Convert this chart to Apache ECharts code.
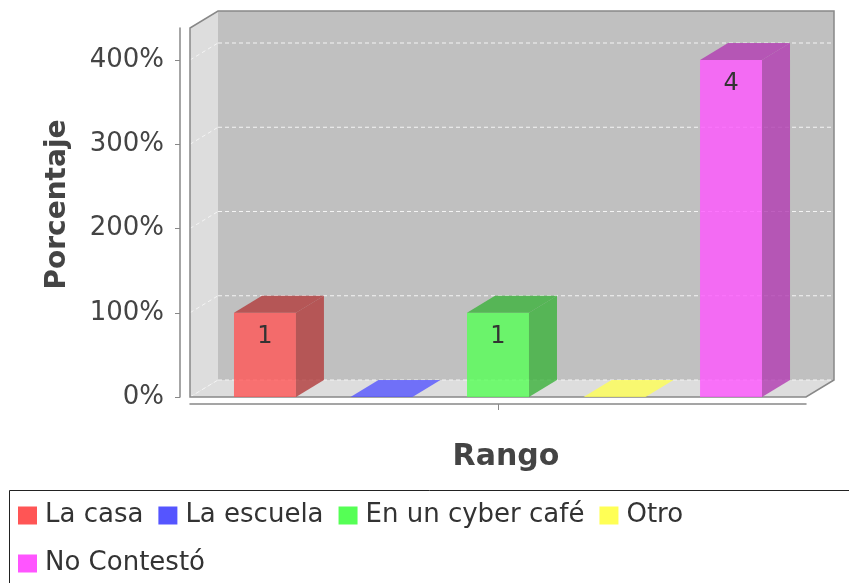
<!DOCTYPE html>
<html><head><meta charset="utf-8">
<script src="https://cdn.jsdelivr.net/npm/echarts@6/dist/echarts.min.js"></script>
<style>html,body{margin:0;padding:0;background:#fff}#c{width:849px;height:583px}</style>
</head><body><div id="c"></div>
<script>
const categories = [''];
const seriesNames = ['La casa', 'La escuela', 'En un cyber café', 'Otro', 'No Contestó'];
const values = [1, 0, 1, 0, 4];
const yTicks = [0, 1, 2, 3, 4];
const colors = ['#FF5555', '#5555FF', '#55FF55', '#FFFF55', '#FF55FF'];

const DX = 28, DY = 17;
const FONT = 'DejaVu Sans';

function rgb(hex) { return [1, 3, 5].map(k => parseInt(hex.substr(k, 2), 16)); }
function rgba(c, a) { return 'rgba(' + c.join(',') + ',' + a + ')'; }
function darker(c) { return c.map(v => Math.floor(v * 0.7)); }

function wallsRender(params, api) {
  const cs = params.coordSys;
  const gx = cs.x, gy = cs.y, gw = cs.width, gh = cs.height;
  const ch = [];
  ch.push({ type: 'polygon', shape: { points: [[gx, gy + gh], [gx, gy], [gx + DX, gy - DY], [gx + DX, gy + gh - DY]] }, style: { fill: '#DDDDDD' } });
  ch.push({ type: 'rect', shape: { x: gx + DX, y: gy - DY, width: gw, height: gh }, style: { fill: '#C0C0C0' } });
  ch.push({ type: 'polygon', shape: { points: [[gx, gy + gh], [gx + DX, gy + gh - DY], [gx + gw + DX, gy + gh - DY], [gx + gw, gy + gh]] }, style: { fill: '#DDDDDD' } });
  yTicks.forEach(t => {
    const y = api.coord([0, t])[1];
    ch.push({ type: 'line', shape: { x1: gx + DX, y1: y - DY, x2: gx + gw + DX, y2: y - DY }, style: { stroke: '#F4F4F4', lineWidth: 1, lineDash: [4, 3] } });
    ch.push({ type: 'line', shape: { x1: gx, y1: y, x2: gx + DX, y2: y - DY }, style: { stroke: '#F4F4F4', lineWidth: 1, lineDash: [4, 3] } });
  });
  ch.push({ type: 'polygon', shape: { points: [[gx, gy + gh], [gx, gy], [gx + DX, gy - DY], [gx + gw + DX, gy - DY], [gx + gw + DX, gy + gh - DY], [gx + gw, gy + gh]] }, style: { fill: 'none', stroke: '#888888', lineWidth: 1.5 } });
  return { type: 'group', children: ch };
}

function barRender(i) {
  return function (params, api) {
    const v = api.value(1);
    const base = api.coord([api.value(0), 0]);
    const top = api.coord([api.value(0), v]);
    const band = api.size([1, 0])[0];
    const left = base[0] - band / 2;
    const margin = band * 0.0714;
    const barW = band * 0.1006;
    const gap = (band - 2 * margin - 5 * barW) / 4;
    const x0 = left + margin + i * (barW + gap);
    const x1 = x0 + barW;
    const y0 = base[1], y1 = top[1];
    const c = rgb(colors[i]);
    const d = darker(c);
    const ch = [];
    if (v > 0) {
      ch.push({ type: 'rect', shape: { x: x0, y: y1, width: barW, height: y0 - y1 }, style: { fill: rgba(c, 0.8) } });
      ch.push({ type: 'polygon', shape: { points: [[x1, y1], [x1 + DX, y1 - DY], [x1 + DX, y0 - DY], [x1, y0]] }, style: { fill: rgba(d, 0.8) } });
      ch.push({ type: 'polygon', shape: { points: [[x0, y1], [x0 + DX, y1 - DY], [x1 + DX, y1 - DY], [x1, y1]] }, style: { fill: rgba(d, 0.8) } });
      ch.push({ type: 'text', style: { text: String(v), x: (x0 + x1) / 2, y: y1 + 24, align: 'center', verticalAlign: 'middle', fontSize: 24, fontFamily: FONT, fill: '#333333' } });
    } else {
      ch.push({ type: 'polygon', shape: { points: [[x0, y1], [x0 + DX, y1 - DY], [x1 + DX, y1 - DY], [x1, y1]] }, style: { fill: rgba(c, 0.8) } });
    }
    return { type: 'group', children: ch };
  };
}

const series = [{
  type: 'custom', name: '_walls', z: 1, silent: true,
  renderItem: wallsRender, data: [[0, 0]]
}];
seriesNames.forEach((n, i) => {
  series.push({
    type: 'custom', name: n, z: 3,
    itemStyle: { color: colors[i] },
    renderItem: barRender(i),
    data: [[0, values[i]]]
  });
});

const chart = echarts.init(document.getElementById('c'), null, { renderer: 'canvas' });
chart.setOption({
  animation: false,
  backgroundColor: '#ffffff',
  textStyle: { fontFamily: FONT },
  grid: { left: 190, right: 43, top: 28, bottom: 186 },
  xAxis: {
    type: 'category', data: categories,
    offset: 7,
    name: 'Rango', nameLocation: 'middle', nameGap: 38,
    nameTextStyle: { fontSize: 30, fontWeight: 'bold', color: '#444444', fontFamily: FONT, padding: [0, 0, 0, 16] },
    axisLine: { show: true, onZero: false, lineStyle: { color: '#888888', width: 1.5 } },
    axisTick: { show: true, alignWithLabel: true, length: 6, lineStyle: { color: '#888888' } },
    axisLabel: { show: false },
    splitLine: { show: false }
  },
  yAxis: {
    type: 'value', min: 0, max: 4.38, interval: 1,
    offset: 10,
    name: 'Porcentaje', nameLocation: 'middle', nameGap: 108,
    nameTextStyle: { fontSize: 28, fontWeight: 'bold', color: '#444444', fontFamily: FONT, padding: [0, 0, 0, 16] },
    axisLine: { show: true, lineStyle: { color: '#888888', width: 1.5 } },
    axisTick: { show: true, length: 5, customValues: yTicks, lineStyle: { color: '#888888' } },
    axisLabel: { customValues: yTicks, margin: 16, fontSize: 26, color: '#444444', fontFamily: FONT, padding: [6, 0, 0, 0], formatter: v => Math.round(v * 100) + '%' },
    splitLine: { show: false }
  },
  legend: {
    data: seriesNames,
    left: 18, top: 499, width: 830,
    padding: 0,
    icon: 'rect', itemWidth: 19, itemHeight: 18, itemGap: 15,
    textStyle: { fontSize: 26, lineHeight: 33, color: '#333333', fontFamily: FONT, padding: [0, 0, 0, 3] }
  },
  graphic: [{
    type: 'rect', silent: true,
    shape: { x: 9.5, y: 490.5, width: 860, height: 120 },
    style: { fill: 'none', stroke: '#222222', lineWidth: 1 }
  }],
  series: series
});
</script></body></html>
